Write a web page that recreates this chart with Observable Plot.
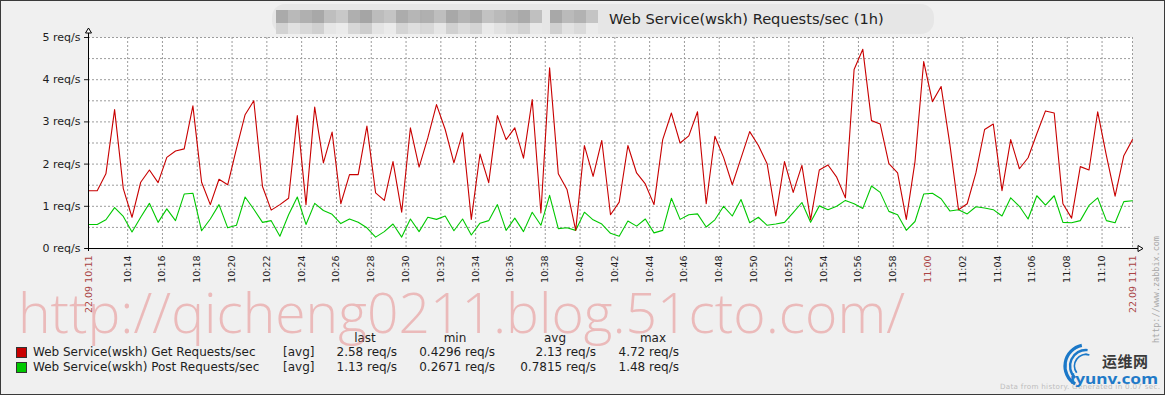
<!DOCTYPE html>
<html><head><meta charset="utf-8">
<script src="https://cdn.jsdelivr.net/npm/d3@7"></script>
<script src="https://cdn.jsdelivr.net/npm/@observablehq/plot@0.6"></script>
<style>
html,body{margin:0;padding:0;background:#f0f0f0;}
#wrap{position:relative;width:1165px;height:395px;background:#f0f0f0;overflow:hidden;font-family:"DejaVu Sans",sans-serif;color:#1e1e1e;}
#frame{position:absolute;left:0;top:0;width:1165px;height:395px;box-sizing:border-box;border:1px solid #3a3a3a;pointer-events:none;}
#titlebox{position:absolute;left:272px;top:4px;width:662px;height:30px;border-radius:13px;background:#e6e6e6;}
#mosaic{position:absolute;left:0;top:0;}
#title{position:absolute;left:609px;top:9px;font-size:14.6px;line-height:20px;white-space:nowrap;color:#222;}
#chart{position:absolute;left:0;top:0;}
#overlay{position:absolute;left:0;top:0;pointer-events:none;}
.lg{position:absolute;font-size:12px;line-height:14px;white-space:nowrap;color:#1e1e1e;}
.sw{position:absolute;width:9px;height:9px;border:1px solid #333;}
</style></head><body>
<div id="wrap">
  <div id="titlebox"></div>
  <div id="mosaic"></div>
  <div id="title">Web Service(wskh) Requests/sec (1h)</div>
  <div id="chart"></div>
  <div id="legend"></div>
  <svg id="overlay" width="1165" height="395"></svg>
  <div id="frame"></div>
</div>
<script>
// ---- data ----
const seriesNames = ["Web Service(wskh) Get Requests/sec", "Web Service(wskh) Post Requests/sec"];
const seriesColors = ["#C80000", "#00C800"];
const legendFunc = ["[avg]", "[avg]"];
const legendHeaders = ["last", "min", "avg", "max"];
const legendLast = ["2.58 req/s", "1.13 req/s"];
const legendMin = ["0.4296 req/s", "0.2671 req/s"];
const legendAvg = ["2.13 req/s", "0.7815 req/s"];
const legendMax = ["4.72 req/s", "1.48 req/s"];

const startTime = new Date(2014, 8, 22, 10, 11, 45);
const stepSeconds = 30;

const getReq = [1.37,1.37,1.77,3.29,1.42,0.74,1.57,1.86,1.56,2.16,2.31,2.36,3.38,1.57,1.04,1.64,1.51,2.36,3.17,3.50,
1.47,0.91,1.04,1.19,3.15,1.04,3.35,2.03,2.76,1.06,1.75,1.75,2.90,1.32,1.14,2.06,0.86,2.86,1.93,2.62,
3.41,2.82,2.03,2.74,0.69,2.24,1.56,3.15,2.58,2.86,2.14,3.53,0.84,4.28,1.77,1.40,0.43,2.44,1.71,2.56,
0.80,1.10,2.44,1.79,1.53,1.04,2.58,3.21,2.50,2.67,3.24,1.06,2.66,2.16,1.51,2.14,2.77,2.44,2.01,0.77,
2.06,1.33,1.97,0.68,1.86,1.98,1.69,1.20,4.24,4.72,3.03,2.95,2.01,1.79,0.69,2.06,4.43,3.48,3.84,2.48,
0.92,1.06,1.79,2.82,2.95,1.37,2.58,1.89,2.15,2.72,3.26,3.21,1.06,0.72,1.94,1.86,3.24,2.20,1.24,2.20,2.58];

const postReq = [0.57,0.57,0.68,0.97,0.76,0.39,0.74,1.07,0.62,0.94,0.66,1.29,1.31,0.42,0.70,1.04,0.49,0.55,1.22,0.93,
0.62,0.66,0.29,0.80,1.22,0.57,1.07,0.90,0.81,0.59,0.70,0.62,0.49,0.27,0.40,0.58,0.27,0.70,0.40,0.74,
0.69,0.77,0.42,0.70,0.32,0.60,0.66,1.04,0.43,0.72,0.40,0.86,0.55,1.26,0.47,0.49,0.43,0.86,0.68,0.58,
0.36,0.29,0.65,0.53,0.70,0.37,0.43,1.19,0.69,0.80,0.82,0.51,0.68,1.00,0.77,1.16,0.61,0.74,0.55,0.58,
0.62,0.85,1.09,0.62,1.01,0.92,1.00,1.14,1.06,0.95,1.48,1.33,0.88,0.80,0.43,0.64,1.29,1.31,1.18,0.89,
0.92,0.82,0.99,0.96,0.92,0.77,1.20,1.00,0.70,1.25,1.03,1.25,0.62,0.61,0.66,1.02,1.20,0.66,0.61,1.11,1.13];

const yTicks = [0, 1, 2, 3, 4, 5];
const yGrid = [0.5, 1, 1.5, 2, 2.5, 3, 3.5, 4, 4.5, 5];
const xTickLabels = ["10:14","10:16","10:18","10:20","10:22","10:24","10:26","10:28","10:30","10:32","10:34","10:36","10:38","10:40",
  "10:42","10:44","10:46","10:48","10:50","10:52","10:54","10:56","10:58","11:02","11:04","11:06","11:08","11:10"];
const xRedTickLabels = ["11:00"];
const xEdgeLabels = ["22.09 10:11", "22.09 11:11"];

// ---- build ----
const toTime = s => { const [h, m] = s.split(":"); return new Date(2014, 8, 22, +h, +m, 0); };
const times = getReq.map((_, i) => new Date(+startTime + i * stepSeconds * 1000));
const endTime = times[times.length - 1];
const getData = times.map((t, i) => ({time: t, value: getReq[i]}));
const postData = times.map((t, i) => ({time: t, value: postReq[i]}));
const blackTicks = xTickLabels.map(toTime);
const redTicks = xRedTickLabels.map(toTime);
const gridTimes = blackTicks.concat(redTicks);
const edgeTicks = [startTime, endTime];
const edgeMap = new Map([[+startTime, xEdgeLabels[0]], [+endTime, xEdgeLabels[1]]]);
const hm = d3.timeFormat("%H:%M");

const gridStyle = {stroke: "#9c9c9c", strokeOpacity: 1, strokeDasharray: "2,2"};
const xTickStyle = {tickRotate: -90, tickSize: 0, tickPadding: 7, fontSize: 9.5, label: null};

const chart = Plot.plot({
  width: 1165,
  height: 320,
  marginLeft: 88,
  marginRight: 33,
  marginTop: 37,
  marginBottom: 72,
  style: {fontFamily: "DejaVu Sans", fontSize: "11px", background: "transparent", overflow: "visible", color: "#1e1e1e"},
  x: {type: "time", domain: [startTime, endTime], label: null},
  y: {domain: [0, 5], label: null},
  marks: [
    Plot.frame({fill: "white", stroke: null}),
    Plot.gridY(yGrid, gridStyle),
    Plot.gridX(gridTimes, gridStyle),
    Plot.ruleX([endTime], gridStyle),
    Plot.line(postData, {x: "time", y: "value", stroke: seriesColors[1], strokeWidth: 1.1}),
    Plot.line(getData, {x: "time", y: "value", stroke: seriesColors[0], strokeWidth: 1.1}),
    Plot.axisY(yTicks, {tickFormat: d => `${d} req/s`, tickSize: 4, tickPadding: 4, fontSize: 11, fill: "#1e1e1e", label: null}),
    Plot.axisX(blackTicks, {...xTickStyle, tickFormat: hm, fill: "#1e1e1e"}),
    Plot.axisX(redTicks, {...xTickStyle, tickFormat: hm, fill: "#aa4444"}),
    Plot.axisX(edgeTicks, {...xTickStyle, tickFormat: d => edgeMap.get(+d), fill: "#aa4444"})
  ]
});
document.getElementById("chart").appendChild(chart);

// axis lines with arrow heads, placed through the plot's scales
const sx = chart.scale("x"), sy = chart.scale("y");
const x0 = sx.apply(startTime), xE = sx.apply(endTime);
const y0 = sy.apply(0), yT = sy.apply(5);
const svg = d3.select(chart);
const ax = svg.append("g").attr("stroke", "#000").attr("fill", "#fff").attr("stroke-width", 1);
ax.append("line").attr("x1", x0 + 0.5).attr("x2", x0 + 0.5).attr("y1", y0 + 3).attr("y2", yT - 4);
ax.append("path").attr("d", `M${x0 - 2.5},${yT - 4}L${x0 + 3.5},${yT - 4}L${x0 + 0.5},${yT - 9}Z`);
ax.append("line").attr("x1", x0 - 3).attr("x2", xE + 6).attr("y1", y0 + 0.5).attr("y2", y0 + 0.5);
ax.append("path").attr("d", `M${xE + 6},${y0 - 2.5}L${xE + 6},${y0 + 3.5}L${xE + 11},${y0 + 0.5}Z`);

// title mosaic (pixelated host name)
const mosaicGreys = [[170,185,176,168,190,200,175,165,188,196,172],[182,174,196,170,186],[176,190,168,180,172,194,186,178,170,192],[168,186,178,196]];
const mosaicStarts = [276, 408, 422, 550];
const mosaic = document.getElementById("mosaic");
mosaicGreys.forEach((row, k) => {
  row.forEach((g, j) => {
    const top = document.createElement("div");
    top.style.cssText = `position:absolute;left:${mosaicStarts[k] + j * 12}px;top:10px;width:12px;height:13px;background:rgb(${g},${g},${g})`;
    mosaic.appendChild(top);
    const bot = document.createElement("div");
    const g2 = Math.min(235, g + 40);
    bot.style.cssText = `position:absolute;left:${mosaicStarts[k] + j * 12}px;top:23px;width:12px;height:11px;background:rgb(${g2},${g2},${g2})`;
    mosaic.appendChild(bot);
  });
});

// legend
const legend = document.getElementById("legend");
function addDiv(cls, css, text) {
  const d = document.createElement("div");
  d.className = cls; d.style.cssText = css; if (text != null) d.textContent = text;
  legend.appendChild(d); return d;
}
const headCenters = [365, 455, 555, 653];
legendHeaders.forEach((h, i) => addDiv("lg", `left:${headCenters[i] - 40}px;top:331px;width:80px;text-align:center`, h));
const rightEdges = [397, 495, 596, 679];
const cols = [legendLast, legendMin, legendAvg, legendMax];
seriesNames.forEach((name, r) => {
  const top = 345 + r * 15;
  addDiv("sw", `left:16px;top:${top + 2}px;background:${seriesColors[r]}`);
  addDiv("lg", `left:33px;top:${top}px`, name);
  addDiv("lg", `left:283px;top:${top}px`, legendFunc[r]);
  cols.forEach((c, k) => addDiv("lg", `left:${rightEdges[k] - 120}px;top:${top}px;width:120px;text-align:right`, c[r]));
});

// overlay texts: watermark, zabbix url, footer, logo
const ov = d3.select("#overlay");
ov.append("text").attr("x", 18).attr("y", 333).attr("textLength", 887).attr("lengthAdjust", "spacingAndGlyphs")
  .attr("font-family", "Open Sans, Noto Sans").attr("font-weight", 300).attr("font-size", 56)
  .attr("fill", "rgb(228,105,105)").attr("fill-opacity", 0.4).text("http://qicheng0211.blog.51cto.com/");
ov.append("text").attr("transform", "translate(1159,343) rotate(-90)").attr("font-family", "DejaVu Sans Mono")
  .attr("font-size", 8.5).attr("textLength", 107).attr("fill", "#a8a8a8").text("http://www.zabbix.com");
ov.append("text").attr("x", 1000).attr("y", 389).attr("textLength", 160).attr("font-family", "DejaVu Sans")
  .attr("font-size", 7.2).attr("fill", "#bdbdbd").text("Data from history. Generated in 0.07 sec.");
const logo = ov.append("g").attr("fill", "none").attr("stroke", "#1b78c8").attr("stroke-linecap", "round");
const arc = d3.arc();
[[21, 3.2, -2.6, -0.2], [16, 2.4, -2.4, 0.1], [11.5, 1.8, -2.2, 0.3]].forEach(([r, w, a0, a1]) => {
  logo.append("path").attr("transform", "translate(1086,366)")
    .attr("d", arc({innerRadius: r, outerRadius: r, startAngle: a0, endAngle: a1})).attr("stroke-width", w);
});
ov.append("text").attr("x", 1102).attr("y", 367).attr("font-family", "Noto Sans CJK SC").attr("font-weight", 700)
  .attr("font-size", 15).attr("textLength", 46).attr("fill", "#3a3a3a").text("运维网");
ov.append("text").attr("x", 1070).attr("y", 384).attr("font-family", "Noto Sans").attr("font-weight", 700)
  .attr("font-size", 15).attr("textLength", 88).attr("lengthAdjust", "spacingAndGlyphs").attr("fill", "#1f7ac8").text("iyunv.com");
</script>
</body></html>
